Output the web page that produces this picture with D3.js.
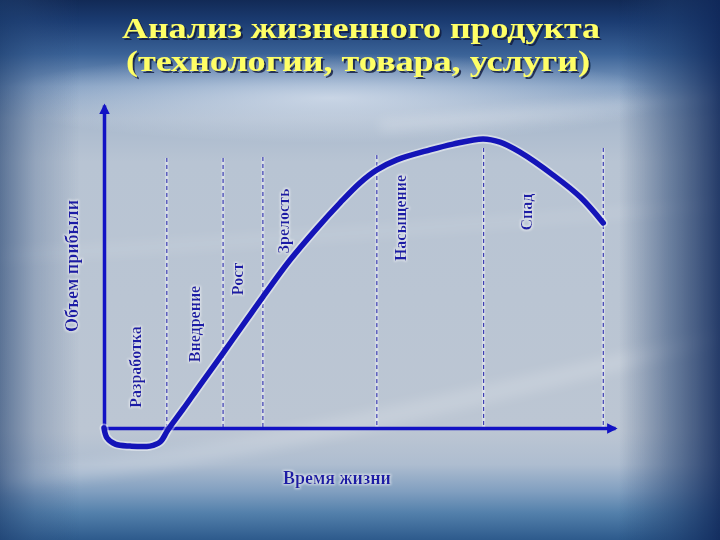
<!DOCTYPE html>
<html><head><meta charset="utf-8">
<script src="https://cdn.jsdelivr.net/npm/d3@7"></script>
<style>html,body{margin:0;padding:0;background:#b9c5d4;} svg{display:block}</style>
</head><body>
<svg id="c" width="720" height="540"></svg>
<script>
// ---------- data ----------
const titleLines = ["Анализ жизненного продукта", "(технологии, товара, услуги)"];
const yAxisTitle = "Объем прибыли";
const xAxisTitle = "Время жизни";
const stages = ["Разработка", "Внедрение", "Рост", "Зрелость", "Насыщение", "Спад"];
const stageEnds = [12.3, 23.3, 31.1, 53.4, 74.3, 97.7];
const stageTops = [83.6, 83.6, 83.9, 84.5, 86.7, 86.7];
const curveX = [0, 0.6, 2.2, 5.1, 9.0, 11.0, 12.5, 15.5, 18.8, 23.3, 28.0, 31.1, 36.4, 41.7, 46.2, 50.1, 53.4, 57.3, 63.8, 68.3, 74.2, 77.5, 81.4, 87.9, 93.2, 97.7];
const curveY = [0, -3.1, -5.0, -5.6, -5.6, -4.3, -0.6, 5.9, 13.3, 23.2, 33.7, 40.6, 52.0, 61.9, 69.7, 75.9, 79.9, 83.0, 86.1, 87.9, 89.5, 88.5, 85.4, 78.3, 71.5, 63.5];

// ---------- layout ----------
const W = 720, H = 540;
const stageLabelPos = [[135, 367], [194, 324], [237, 279], [283, 221], [400, 218], [526, 212]];
const font = "'Liberation Serif','Times New Roman',serif";
const ink = "#1a1aa6";
const axisCol = "#1212c4";

const svg = d3.select("#c");
const defs = svg.append("defs");

// background gradients
const vg = defs.append("linearGradient").attr("id", "bgv").attr("x1", 0).attr("y1", 0).attr("x2", 0).attr("y2", 1);
[[0, "#122a56"], [0.04, "#1b3c72"], [0.10, "#3a6297"], [0.16, "#7f9cc0"], [0.22, "#a9b9cd"], [0.30, "#b8c4d3"],
 [0.80, "#bcc6d3"], [0.86, "#aebdd0"], [0.91, "#819fc0"], [0.95, "#5380ab"], [1, "#2d5a8c"]]
  .forEach(([o, c]) => vg.append("stop").attr("offset", o).attr("stop-color", c));
const hg = defs.append("linearGradient").attr("id", "bgh").attr("x1", 0).attr("y1", 0).attr("x2", 1).attr("y2", 0);
[[0, "#1c3c6c", 0.6], [0.05, "#2a4a7a", 0.25], [0.11, "#2a4a7a", 0], [0.86, "#1c3a6a", 0], [0.93, "#1c3a6a", 0.5], [1, "#10285a", 0.88]]
  .forEach(([o, c, a]) => hg.append("stop").attr("offset", o).attr("stop-color", c).attr("stop-opacity", a));
const rg = defs.append("radialGradient").attr("id", "glow").attr("cx", 0.5).attr("cy", 0.5).attr("r", 0.5);
[[0, "#e2e9f3", 0.7], [1, "#e2e9f3", 0]].forEach(([o, c, a]) => rg.append("stop").attr("offset", o).attr("stop-color", c).attr("stop-opacity", a));
const blur = defs.append("filter").attr("id", "blur").attr("x", "-20%").attr("y", "-50%").attr("width", "140%").attr("height", "200%");
blur.append("feGaussianBlur").attr("stdDeviation", 6);

// text halo (light glow)
const halo = defs.append("filter").attr("id", "halo").attr("x", "-10%").attr("y", "-20%").attr("width", "120%").attr("height", "140%");
halo.append("feMorphology").attr("in", "SourceAlpha").attr("operator", "dilate").attr("radius", 1).attr("result", "d");
halo.append("feGaussianBlur").attr("in", "d").attr("stdDeviation", 0.8).attr("result", "b");
halo.append("feFlood").attr("flood-color", "#ffffff").attr("flood-opacity", 0.55).attr("result", "f");
halo.append("feComposite").attr("in", "f").attr("in2", "b").attr("operator", "in").attr("result", "g");
const hm = halo.append("feMerge");
hm.append("feMergeNode").attr("in", "g");
hm.append("feMergeNode").attr("in", "SourceGraphic");

// title shadow
const shadow = defs.append("filter").attr("id", "shadow").attr("x", "-5%").attr("y", "-20%").attr("width", "110%").attr("height", "150%");
shadow.append("feDropShadow").attr("dx", 2).attr("dy", 2).attr("stdDeviation", 0.6)
  .attr("flood-color", "#0c1a3a").attr("flood-opacity", 0.8);

svg.append("rect").attr("width", W).attr("height", H).attr("fill", "url(#bgv)");
svg.append("ellipse").attr("cx", 330).attr("cy", 98).attr("rx", 340).attr("ry", 45).attr("fill", "url(#glow)");
// soft cloud streaks
const streaks = svg.append("g").attr("filter", "url(#blur)").attr("fill", "#ffffff");
streaks.append("path").attr("d", "M0,470 C200,455 420,400 720,330 L720,345 C430,420 220,470 0,488 Z").attr("opacity", 0.16);
streaks.append("path").attr("d", "M380,120 C500,110 620,100 720,92 L720,104 C620,112 500,124 380,132 Z").attr("opacity", 0.18);
streaks.append("path").attr("d", "M0,250 C200,240 450,220 720,200 L720,210 C450,232 200,252 0,262 Z").attr("opacity", 0.1);
svg.append("rect").attr("width", W).attr("height", H).attr("fill", "url(#bgh)");

// ---------- title ----------
const tg = svg.append("g").attr("font-family", font).attr("font-weight", "bold").attr("text-anchor", "middle")
  .attr("font-size", 29).attr("fill", "#ffff66").attr("filter", "url(#shadow)");
const titleCfg = [[361, 38, 478], [358, 71, 464]];
titleLines.forEach((t, i) => {
  const [cx, by, w] = titleCfg[i];
  tg.append("text").attr("x", cx).attr("y", by).attr("textLength", w).attr("lengthAdjust", "spacingAndGlyphs").text(t);
});

// ---------- chart ----------
const x = d3.scaleLinear().domain([0, 100]).range([104, 615]);
const y = d3.scaleLinear().domain([0, 100]).range([428, 105]);

defs.append("marker").attr("id", "arr").attr("viewBox", "0 0 10 10").attr("refX", 8).attr("refY", 5)
  .attr("markerWidth", 3).attr("markerHeight", 3).attr("markerUnits", "strokeWidth").attr("orient", "auto")
  .append("path").attr("d", "M0,0 L10,5 L0,10 Z").attr("fill", axisCol);

// dashed stage boundaries
const bd = svg.append("g");
stageEnds.forEach((v, i) => {
  bd.append("line").attr("x1", x(v)).attr("x2", x(v)).attr("y1", y(stageTops[i])).attr("y2", y(0))
    .attr("stroke", "#ffffff").attr("stroke-opacity", 0.45).attr("stroke-width", 3);
  bd.append("line").attr("x1", x(v)).attr("x2", x(v)).attr("y1", y(stageTops[i])).attr("y2", y(0))
    .attr("stroke", "#1c1ca8").attr("stroke-width", 1).attr("stroke-dasharray", "4,3");
});

// axes
const xAxis = svg.append("g").attr("transform", `translate(0,${y(0)})`)
  .call(d3.axisBottom(x).tickValues([]).tickSizeOuter(0));
const yAxis = svg.append("g").attr("transform", `translate(${x(0)},0)`)
  .call(d3.axisLeft(y).tickValues([]).tickSizeOuter(0));
[xAxis, yAxis].forEach(a => a.select(".domain").attr("stroke", axisCol).attr("stroke-width", 3.5)
  .attr("marker-end", "url(#arr)"));

// stage labels and axis titles
const lg = svg.append("g").attr("font-family", font).attr("font-weight", "bold").attr("text-anchor", "middle")
  .attr("fill", ink).attr("filter", "url(#halo)");
function vlabel(t, px, py, size) {
  lg.append("text").attr("transform", `translate(${px},${py}) rotate(-90)`).attr("dy", "0.35em")
    .attr("font-size", size).text(t);
}
stages.forEach((s, i) => vlabel(s, stageLabelPos[i][0], stageLabelPos[i][1], 16));
vlabel(yAxisTitle, 72, 266, 18);
lg.append("text").attr("x", 337).attr("y", 484).attr("font-size", 18).text(xAxisTitle);

// life-cycle curve
const pts = curveX.map((v, i) => [v, curveY[i]]);
const line = d3.line().x(d => x(d[0])).y(d => y(d[1])).curve(d3.curveCatmullRom.alpha(0.5));
svg.append("path").attr("d", line(pts)).attr("fill", "none").attr("stroke", "#ffffff").attr("stroke-opacity", 0.45)
  .attr("stroke-width", 9).attr("stroke-linecap", "round").attr("stroke-linejoin", "round");
svg.append("path").attr("d", line(pts)).attr("fill", "none").attr("stroke", "#1414b8")
  .attr("stroke-width", 5.5).attr("stroke-linecap", "round").attr("stroke-linejoin", "round");
</script>
</body></html>
